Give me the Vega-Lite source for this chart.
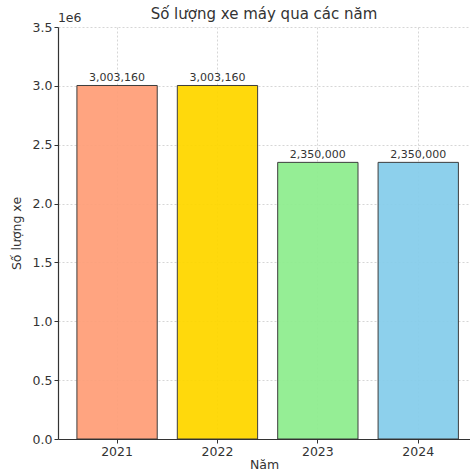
{
  "$schema": "https://vega.github.io/schema/vega-lite/v6.json",
  "autosize": "none",
  "width": 412,
  "height": 412,
  "padding": {"left": 58, "top": 27, "right": 0, "bottom": 36},
  "background": "white",
  "config": {
    "font": "DejaVu Sans",
    "view": {"stroke": null},
    "axis": {
      "domainColor": "#333333",
      "domainWidth": 1.2,
      "tickColor": "#333333",
      "tickSize": 4,
      "labelColor": "#333333",
      "titleColor": "#333333",
      "labelFontSize": 12.5,
      "titleFontSize": 12.5,
      "titleFontWeight": "normal",
      "gridColor": "#cccccc",
      "gridDash": [2, 2],
      "gridWidth": 0.8,
      "zindex": 1
    }
  },
  "title": {
    "text": "Số lượng xe máy qua các năm",
    "fontSize": 15,
    "fontWeight": "normal",
    "color": "#333333",
    "offset": -10
  },
  "data": {
    "values": [
      {"year": "2021", "count": 3003160, "color": "#FFA07A"},
      {"year": "2022", "count": 3003160, "color": "#FFD700"},
      {"year": "2023", "count": 2350000, "color": "#90EE90"},
      {"year": "2024", "count": 2350000, "color": "#87CEEB"}
    ]
  },
  "layer": [
    {
      "mark": {"type": "bar", "stroke": "#333333", "strokeWidth": 1, "opacity": 0.95},
      "encoding": {
        "x": {
          "field": "year",
          "type": "nominal",
          "scale": {"paddingInner": 0.2, "paddingOuter": 0.152, "align": 0.62},
          "axis": {"title": "Năm", "labelAngle": 0, "grid": true, "labelPadding": 2, "titlePadding": 1}
        },
        "y": {
          "field": "count",
          "type": "quantitative",
          "scale": {"domain": [0, 3500000], "nice": false},
          "axis": {
            "title": "Số lượng xe",
            "values": [0, 500000, 1000000, 1500000, 2000000, 2500000, 3000000, 3500000],
            "labelExpr": "format(datum.value / 1000000, '.1f')",
            "grid": true,
            "titlePadding": 9
          }
        },
        "color": {"field": "color", "type": "nominal", "scale": null}
      }
    },
    {
      "mark": {"type": "text", "baseline": "bottom", "dy": -2, "fontSize": 11, "color": "#333333"},
      "encoding": {
        "x": {"field": "year", "type": "nominal"},
        "y": {"field": "count", "type": "quantitative"},
        "text": {"field": "count", "type": "quantitative", "format": ","}
      }
    },
    {
      "data": {"values": [{"label": "1e6"}]},
      "mark": {"type": "text", "align": "left", "baseline": "bottom", "dx": -19, "dy": -2, "fontSize": 12.5, "color": "#333333"},
      "encoding": {
        "x": {"datum": "2021", "type": "nominal", "bandPosition": 0},
        "y": {"datum": 3500000, "type": "quantitative"},
        "text": {"field": "label", "type": "nominal"}
      }
    }
  ]
}
